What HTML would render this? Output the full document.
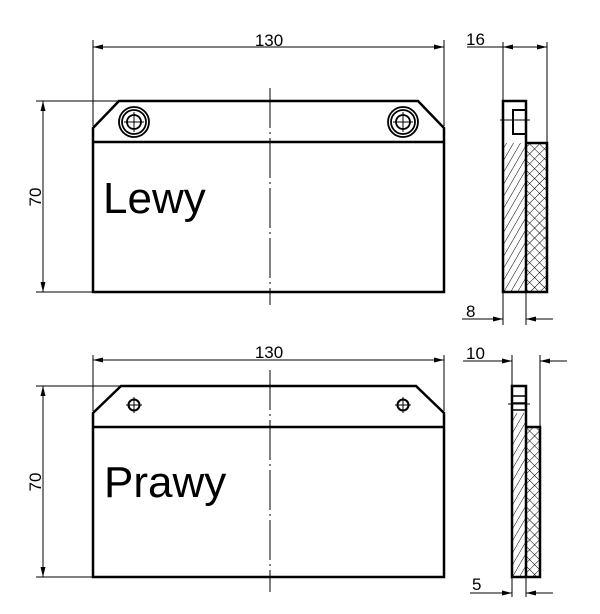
<!DOCTYPE html>
<html><head><style>body{margin:0;background:#fff}svg{display:block}</style></head><body>
<svg width="600" height="614" viewBox="0 0 600 614" xmlns="http://www.w3.org/2000/svg" font-family="Liberation Sans, sans-serif">
<defs>
<marker id="a" viewBox="0 0 10 6" refX="10" refY="3" markerWidth="10" markerHeight="6" orient="auto-start-reverse" markerUnits="userSpaceOnUse"><path d="M0,0.5L10,3L0,5.5z" fill="#000"/></marker>
<pattern id="h" width="6" height="6" patternUnits="userSpaceOnUse" patternTransform="rotate(30)"><line x1="0" y1="0" x2="0" y2="6" stroke="#000" stroke-width="1"/></pattern>
<pattern id="x" width="7" height="7" patternUnits="userSpaceOnUse" patternTransform="rotate(45)"><path d="M0,0V7M0,0H7" stroke="#000" stroke-width="1"/></pattern>
</defs>
<g stroke="#000" fill="none">
<path d="M93,128L119,101H418L444,128V292H93Z" stroke-width="2.5"/>
<line x1="93" y1="142" x2="444" y2="142" stroke-width="2.5"/>
<line x1="270" y1="88" x2="270" y2="305" stroke-width="1" stroke-dasharray="40,4,2,4"/>
<g stroke-width="1.8"><circle cx="134" cy="122" r="15"/><circle cx="134" cy="122" r="12"/><circle cx="134" cy="122" r="7"/>
<circle cx="403" cy="122" r="15"/><circle cx="403" cy="122" r="12"/><circle cx="403" cy="122" r="7"/></g>
<g stroke-width="1"><path d="M124,122H144M134,112V132M393,122H413M403,112V132"/>
<line x1="93" y1="40" x2="93" y2="126"/><line x1="444" y1="40" x2="444" y2="126"/>
<line x1="93" y1="47" x2="444" y2="47" marker-start="url(#a)" marker-end="url(#a)"/>
<line x1="36" y1="101" x2="119" y2="101"/><line x1="36" y1="292" x2="93" y2="292"/>
<line x1="43" y1="101" x2="43" y2="292" marker-start="url(#a)" marker-end="url(#a)"/></g>
<rect x="503" y="143" width="23" height="149" fill="url(#h)" stroke="none"/>
<rect x="526" y="143" width="21" height="149" fill="url(#x)" stroke="none"/>
<path d="M503,101H526V292H503Z M526,143H547V292H526" stroke-width="2.5"/>
<path d="M513,110H526V134H513Z" stroke-width="2"/>
<g stroke-width="1"><line x1="500" y1="120" x2="530" y2="120"/>
<line x1="503" y1="42" x2="503" y2="325"/><line x1="547" y1="42" x2="547" y2="143"/><line x1="526" y1="292" x2="526" y2="325"/>
<line x1="467" y1="47" x2="503" y2="47"/>
<line x1="503" y1="47" x2="547" y2="47" marker-start="url(#a)" marker-end="url(#a)"/>
<line x1="462" y1="319" x2="503" y2="319" marker-end="url(#a)"/>
<line x1="553" y1="319" x2="526" y2="319" marker-end="url(#a)"/></g>
<path d="M93,413L121,386H416L444,413V577H93Z" stroke-width="2.5"/>
<line x1="93" y1="427" x2="444" y2="427" stroke-width="2.5"/>
<line x1="270" y1="370" x2="270" y2="592" stroke-width="1" stroke-dasharray="40,4,2,4"/>
<g stroke-width="2"><circle cx="134" cy="405" r="5.5"/><circle cx="403" cy="405" r="5.5"/></g>
<g stroke-width="1"><path d="M126,405H142M134,397V413M395,405H411M403,397V413"/>
<line x1="93" y1="355" x2="93" y2="411"/><line x1="444" y1="355" x2="444" y2="411"/>
<line x1="93" y1="360" x2="444" y2="360" marker-start="url(#a)" marker-end="url(#a)"/>
<line x1="36" y1="386" x2="121" y2="386"/><line x1="36" y1="577" x2="93" y2="577"/>
<line x1="43" y1="386" x2="43" y2="577" marker-start="url(#a)" marker-end="url(#a)"/></g>
<rect x="512" y="413" width="14" height="164" fill="url(#h)" stroke="none"/>
<rect x="526" y="427" width="14" height="150" fill="url(#x)" stroke="none"/>
<path d="M512,386H526V577H512Z M526,427H540V577H526" stroke-width="2.5"/>
<path d="M512,396H526M512,403H526M512,410H526" stroke-width="1.5"/>
<g stroke-width="1"><line x1="508" y1="404" x2="530" y2="404"/>
<line x1="512" y1="355" x2="512" y2="597"/><line x1="540" y1="355" x2="540" y2="427"/><line x1="526" y1="577" x2="526" y2="597"/>
<line x1="463" y1="361" x2="512" y2="361" marker-end="url(#a)"/>
<line x1="567" y1="361" x2="540" y2="361" marker-end="url(#a)"/>
<line x1="470" y1="593" x2="512" y2="593" marker-end="url(#a)"/>
<line x1="553" y1="593" x2="526" y2="593" marker-end="url(#a)"/></g>
</g>
<g fill="#000" font-size="17">
<text x="269" y="46" text-anchor="middle">130</text>
<text x="269" y="358" text-anchor="middle">130</text>
<text transform="translate(41,197) rotate(-90)" text-anchor="middle">70</text>
<text transform="translate(41,482) rotate(-90)" text-anchor="middle">70</text>
<text x="466" y="45">16</text><text x="466" y="317">8</text>
<text x="466" y="359">10</text><text x="472" y="590">5</text>
<text x="103" y="213" font-size="44">Lewy</text>
<text x="104" y="497" font-size="44">Prawy</text>
</g>
</svg>
</body></html>
